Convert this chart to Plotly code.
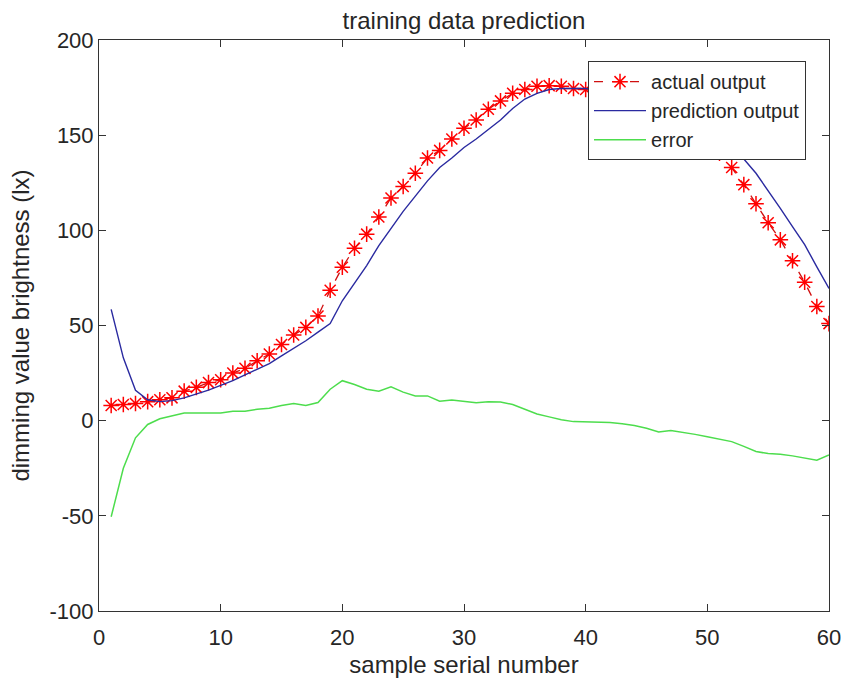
import plotly.graph_objects as go

samples = list(range(1, 61))

actual_output = [8, 8.5, 9, 10, 11, 12, 15.5, 17.5, 20, 21.5,
                 25, 27.5, 31.5, 35, 40, 45, 49, 55, 68.5, 80.6,
                 90.6, 98, 107, 117, 123, 130, 138, 142, 148, 153.6,
                 158, 163.6, 168, 172, 174, 175.7, 176, 175.7, 174.5, 174,
                 173, 172, 170.5, 168.5, 166, 162.5, 160, 156.5, 152.5, 147,
                 140.5, 133, 124, 114, 104, 95, 84, 72.7, 60, 51]

prediction_output = [58.5, 33, 16, 11, 10, 10.5, 12, 14, 16, 18.5,
                     21, 24, 27, 30, 34, 38, 42, 46.5, 51, 63,
                     72, 81.5, 92, 101, 110, 118, 126, 133, 138, 143.5,
                     148, 153, 158, 164, 169, 172, 174, 174.5, 174.5, 174.5,
                     173.6, 173, 172.1, 171, 170, 168.5, 165.2, 162.5, 159.7, 155.5,
                     150.3, 144, 137.5, 130, 121, 111.5, 102, 92.5, 80.8, 69.5]

error = [-50.5, -25, -9, -2, 1, 2.5, 4, 4, 4, 4,
         5, 5, 6, 6.5, 8, 9, 8, 9.5, 16.5, 21,
         19, 16.5, 15.5, 17.8, 15, 13, 13, 10.2, 10.8, 10,
         9.4, 10, 9.8, 8.5, 6, 3.5, 2, 0.5, -0.5, -0.6,
         -0.6, -1, -1.6, -2.5, -4, -6, -5.2, -6, -7.2, -8.5,
         -9.8, -11, -13.5, -16.2, -17.3, -17.6, -18.5, -19.8, -20.8, -18]

x_ticks = [0, 10, 20, 30, 40, 50, 60]
x_tick_labels = ["0", "10", "20", "30", "40", "50", "60"]
y_ticks = [-100, -50, 0, 50, 100, 150, 200]
y_tick_labels = ["-100", "-50", "0", "50", "100", "150", "200"]

FONT = "Arial, Liberation Sans, sans-serif"
TXT = "#262626"

W, H = 843, 686

fig = go.Figure()
fig.add_trace(go.Scatter(
    x=samples, y=actual_output, name="actual output", mode="lines+markers",
    line=dict(color="#d01010", width=1.3, dash="dash"),
    marker=dict(symbol="asterisk-open", size=13, color="#ff0000",
                line=dict(color="#ff0000", width=1.5)),
))
fig.add_trace(go.Scatter(
    x=samples, y=prediction_output, name="prediction output", mode="lines",
    line=dict(color="#2a2aa0", width=1.4),
))
fig.add_trace(go.Scatter(
    x=samples, y=error, name="error", mode="lines",
    line=dict(color="#4ddd4d", width=1.5),
))

axis_common = dict(
    showline=True, linecolor="#333333", linewidth=1, mirror="allticks",
    ticks="inside", ticklen=7, tickcolor="#333333", showgrid=False,
    zeroline=False, automargin=False,
    tickfont=dict(family=FONT, size=22, color=TXT),
)

fig.update_layout(
    width=W, height=H,
    margin=dict(l=99, r=14, t=40, b=75),
    paper_bgcolor="white", plot_bgcolor="white",
    font=dict(family=FONT, color=TXT),
    title=dict(text="training data prediction", x=(99 + W - 14) / 2 / W, xanchor="center",
               y=1 - 21 / H, yanchor="middle", font=dict(size=24, family=FONT, color=TXT)),
    xaxis=dict(range=[0, 60], tickvals=x_ticks, ticktext=x_tick_labels,
               ticklabelstandoff=7,
               title=dict(text="sample serial number", font=dict(size=24, family=FONT, color=TXT), standoff=6),
               **axis_common),
    yaxis=dict(range=[-100, 200], tickvals=y_ticks, ticktext=y_tick_labels,
               title=dict(text="dimming value brightness (lx)", font=dict(size=24, family=FONT, color=TXT), standoff=13),
               **axis_common),
    legend=dict(x=0.9685, y=0.963, xanchor="right", yanchor="top",
                bgcolor="white", bordercolor="#333333", borderwidth=1,
                font=dict(size=20, family=FONT, color=TXT),
                tracegroupgap=0, itemwidth=52),
    showlegend=True,
)

fig.write_html(
    "out.html",
    config={"displayModeBar": False},
    post_script="document.body.style.margin='0';document.body.style.overflow='hidden';",
)
